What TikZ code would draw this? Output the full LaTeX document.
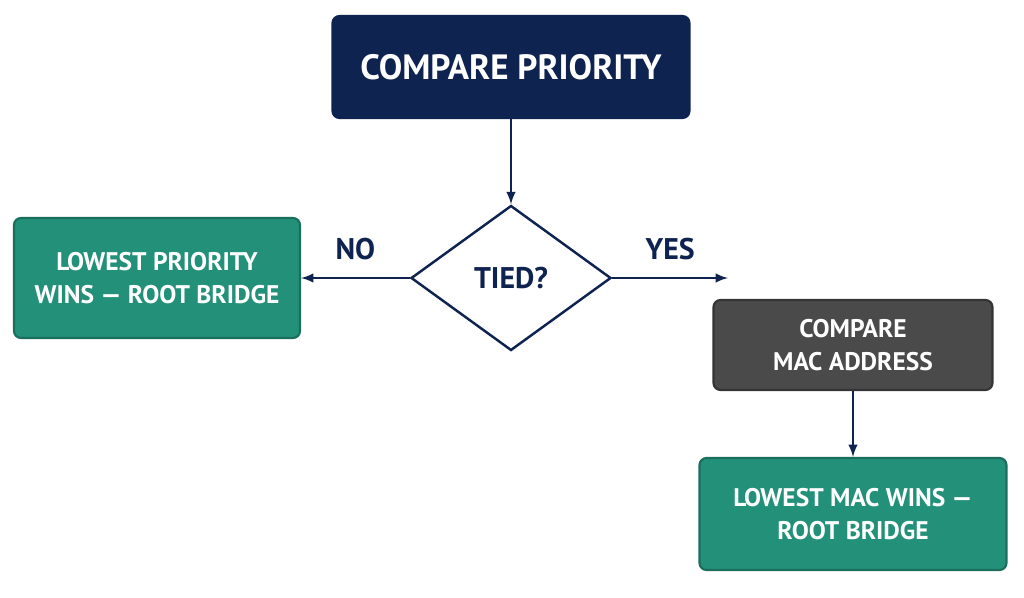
\documentclass[tikz,border=0pt]{standalone}
\usepackage{fontspec}
\setmainfont{PT Sans}
\usetikzlibrary{shapes.geometric}
\definecolor{navy}{HTML}{0F2350}
\definecolor{teal}{HTML}{23907A}
\definecolor{tealdk}{HTML}{1B6E5C}
\definecolor{slate}{HTML}{4A4A4A}
\begin{document}
\begin{tikzpicture}[x=0.02cm,y=-0.02cm,
  box/.style={rounded corners=4pt, line width=1.2pt, align=center, text=white, font=\bfseries\fontsize{14.5}{19}\selectfont, inner sep=0pt},
  arr/.style={-latex, line width=1.4pt, draw=navy}]
  \useasboundingbox (0,0) rectangle (1024,598);
  % top
  \node[box, fill=navy, draw=navy, minimum width=357*0.02cm, minimum height=102*0.02cm, font=\bfseries\fontsize{20}{24}\selectfont] (prio) at (511,67) {COMPARE PRIORITY};
  % decision
  \node[diamond, draw=navy, line width=1.4pt, fill=white, minimum width=200*0.02cm, minimum height=145*0.02cm, inner sep=0pt, aspect=1.38, text=navy, font=\bfseries\fontsize{17}{20}\selectfont] (tied) at (511,278) {TIED?};
  \node[box, fill=teal, draw=tealdk, minimum width=286*0.02cm, minimum height=120*0.02cm] (low) at (157,278) {LOWEST PRIORITY\\WINS — ROOT BRIDGE};
  \node[box, fill=slate, draw=slate!70!black, minimum width=279*0.02cm, minimum height=90*0.02cm] (mac) at (853,345) {COMPARE\\MAC ADDRESS};
  \node[box, fill=teal, draw=tealdk, minimum width=307*0.02cm, minimum height=112*0.02cm] (lowmac) at (853,514) {LOWEST MAC WINS —\\ROOT BRIDGE};
  \coordinate (yesend) at (728,278);
  \draw[arr] (prio) -- (tied);
  \draw[arr] (tied) -- node[above=6pt, text=navy, font=\bfseries\fontsize{17}{20}\selectfont] {NO} (low);
  \draw[arr] (tied) -- node[above=6pt, text=navy, font=\bfseries\fontsize{17}{20}\selectfont] {YES} (yesend);
  \draw[arr] (mac) -- (lowmac);
\end{tikzpicture}
\end{document}
